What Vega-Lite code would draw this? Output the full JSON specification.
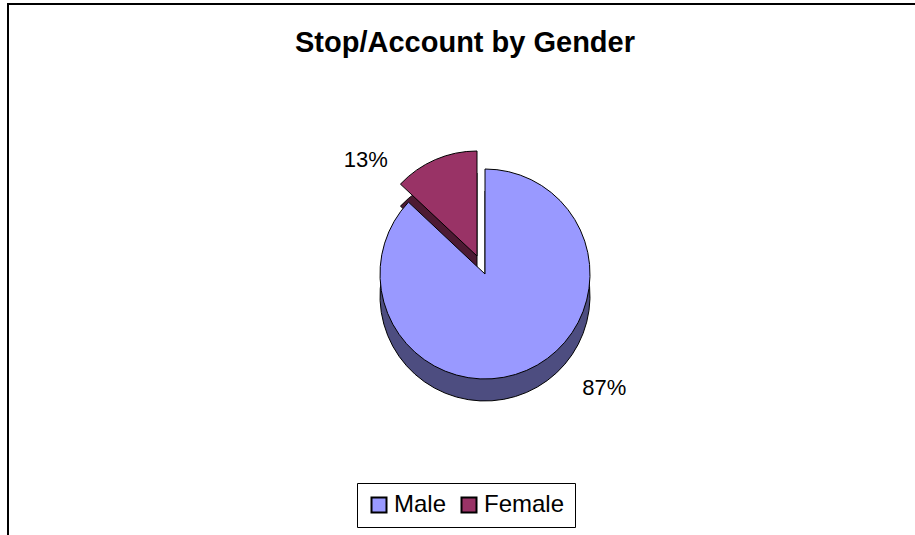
{
  "$schema": "https://vega.github.io/schema/vega-lite/v6.json",
  "width": 954,
  "height": 540,
  "autosize": "none",
  "padding": {"left": 8, "top": 4, "right": 0, "bottom": 0},
  "background": "white",
  "view": {"stroke": "black", "strokeWidth": 2, "fill": "white"},
  "config": {
    "view": {"stroke": "black", "strokeWidth": 2},
    "font": "Liberation Sans"
  },
  "title": {
    "text": "Stop/Account by Gender",
    "font": "Liberation Sans",
    "fontSize": 29,
    "fontWeight": "bold",
    "color": "black",
    "anchor": "middle",
    "offset": -54,
    "dx": -20
  },
  "data": {
    "values": [
      {"gender": "Male", "value": 0.87},
      {"gender": "Female", "value": 0.13}
    ]
  },
  "layer": [
    {
      "transform": [
        {"stack": "value", "groupby": [], "sort": [{"field": "gender", "order": "descending"}], "as": ["v0", "v1"]},
        {"filter": "datum.gender == 'Female'"}
      ],
      "mark": {"type": "arc", "outerRadius": 105, "fill": "#4D1A33", "stroke": "black", "strokeWidth": 1, "xOffset": -8, "yOffset": 4},
      "encoding": {
        "theta": {"field": "v0", "type": "quantitative", "scale": {"domain": [0, 1]}},
        "theta2": {"field": "v1"}
      }
    },
    {
      "transform": [
        {"stack": "value", "groupby": [], "sort": [{"field": "gender", "order": "descending"}], "as": ["v0", "v1"]},
        {"filter": "datum.gender == 'Female'"}
      ],
      "mark": {"type": "arc", "outerRadius": 105, "stroke": "black", "strokeWidth": 1, "xOffset": -8, "yOffset": -18},
      "encoding": {
        "theta": {"field": "v0", "type": "quantitative", "scale": {"domain": [0, 1]}},
        "theta2": {"field": "v1"},
        "color": {"field": "gender", "type": "nominal", "scale": {"domain": ["Male", "Female"], "range": ["#9999FF", "#993366"]}}
      }
    },
    {
      "transform": [
        {"stack": "value", "groupby": [], "sort": [{"field": "gender", "order": "descending"}], "as": ["v0", "v1"]},
        {"filter": "datum.gender == 'Male'"}
      ],
      "mark": {"type": "arc", "outerRadius": 105, "fill": "#4D4D80", "stroke": "black", "strokeWidth": 1, "yOffset": 22},
      "encoding": {
        "theta": {"field": "v0", "type": "quantitative", "scale": {"domain": [0, 1]}},
        "theta2": {"field": "v1"}
      }
    },
    {
      "transform": [
        {"stack": "value", "groupby": [], "sort": [{"field": "gender", "order": "descending"}], "as": ["v0", "v1"]},
        {"filter": "datum.gender == 'Male'"}
      ],
      "mark": {"type": "arc", "outerRadius": 105, "stroke": "black", "strokeWidth": 1},
      "encoding": {
        "theta": {"field": "v0", "type": "quantitative", "scale": {"domain": [0, 1]}},
        "theta2": {"field": "v1"},
        "color": {"field": "gender", "type": "nominal", "scale": {"domain": ["Male", "Female"], "range": ["#9999FF", "#993366"]},
          "legend": {"orient": "none", "legendX": 349, "legendY": 479, "direction": "horizontal", "title": null,
            "strokeColor": "black", "padding": 10, "labelFontSize": 24, "labelFont": "Liberation Sans", "labelColor": "black",
            "symbolType": "square", "symbolSize": 225, "symbolStrokeColor": "black", "symbolStrokeWidth": 2, "columnPadding": 10, "labelOffset": 3}}
      }
    },
    {
      "mark": {"type": "text", "radius": 165, "thetaOffset": -0.4, "fontSize": 22, "font": "Liberation Sans", "color": "black"},
      "encoding": {
        "theta": {"field": "value", "type": "quantitative", "stack": true, "scale": {"domain": [0, 1]}},
        "order": {"field": "gender", "sort": "descending"},
        "text": {"field": "value", "type": "quantitative", "format": ".0%"}
      }
    }
  ]
}
